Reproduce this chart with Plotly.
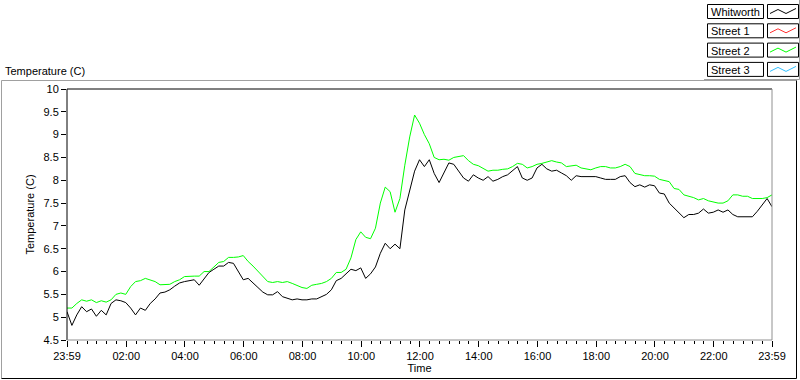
import plotly.graph_objects as go
import pandas as pd

# ---- data (10-minute samples from 23:59 to 23:59) ----
start = "2024-01-01 23:59"
whitworth = [5.12, 4.82, 5.05, 5.23, 5.12, 5.18, 5.02, 5.15, 5.05, 5.30,
             5.38, 5.36, 5.32, 5.20, 5.05, 5.20, 5.15, 5.30, 5.40, 5.53,
             5.55, 5.60, 5.68, 5.75, 5.78, 5.80, 5.82, 5.70, 5.85, 5.98,
             6.05, 6.12, 6.12, 6.20, 6.18, 6.00, 5.82, 5.85, 5.74, 5.65,
             5.55, 5.49, 5.49, 5.56, 5.45, 5.42, 5.38, 5.40, 5.38, 5.38,
             5.40, 5.40, 5.45, 5.50, 5.60, 5.80, 5.85, 5.95, 6.05, 6.02,
             6.08, 5.85, 5.95, 6.10, 6.40, 6.62, 6.50, 6.60, 6.50, 7.35,
             7.75, 8.20, 8.45, 8.30, 8.45, 8.15, 7.95, 8.15, 8.38, 8.35,
             8.19, 8.05, 7.98, 8.12, 8.05, 8.00, 8.08, 7.98, 8.02, 8.08,
             8.12, 8.20, 8.30, 8.05, 8.00, 8.05, 8.27, 8.35, 8.25, 8.20,
             8.22, 8.16, 8.10, 8.00, 8.10, 8.08, 8.08, 8.09, 8.08, 8.05,
             8.02, 8.02, 8.02, 8.08, 8.10, 7.95, 7.86, 7.90, 7.85, 7.90,
             7.88, 7.72, 7.70, 7.50, 7.40, 7.30, 7.18, 7.25, 7.25, 7.28,
             7.37, 7.28, 7.30, 7.35, 7.30, 7.35, 7.25, 7.20, 7.20, 7.20,
             7.20, 7.32, 7.45, 7.60, 7.42]
street2 = [5.20, 5.20, 5.30, 5.38, 5.35, 5.38, 5.32, 5.36, 5.33, 5.38,
           5.50, 5.53, 5.50, 5.67, 5.78, 5.80, 5.85, 5.82, 5.78, 5.71,
           5.71, 5.72, 5.78, 5.82, 5.89, 5.90, 5.90, 5.90, 6.00, 6.00,
           6.10, 6.20, 6.22, 6.31, 6.31, 6.32, 6.35, 6.22, 6.12, 6.00,
           5.90, 5.78, 5.76, 5.78, 5.76, 5.78, 5.74, 5.70, 5.65, 5.63,
           5.70, 5.72, 5.74, 5.78, 5.85, 5.98, 5.98, 6.05, 6.30, 6.70,
           6.87, 6.75, 6.72, 6.95, 7.50, 7.85, 7.75, 7.30, 7.60, 8.33,
           8.95, 9.43, 9.25, 9.00, 8.80, 8.50, 8.45, 8.46, 8.44, 8.50,
           8.52, 8.54, 8.43, 8.35, 8.32, 8.25, 8.20, 8.22, 8.22, 8.24,
           8.25, 8.30, 8.37, 8.35, 8.27, 8.30, 8.35, 8.37, 8.40, 8.43,
           8.40, 8.38, 8.30, 8.32, 8.33, 8.27, 8.25, 8.23, 8.27, 8.30,
           8.30, 8.27, 8.27, 8.30, 8.35, 8.30, 8.15, 8.12, 8.10, 8.10,
           8.09, 8.02, 8.00, 7.97, 7.82, 7.80, 7.68, 7.65, 7.62, 7.57,
           7.60, 7.55, 7.52, 7.50, 7.50, 7.55, 7.68, 7.68, 7.65, 7.65,
           7.60, 7.60, 7.60, 7.62, 7.68]
street1 = []
street3 = []
series_names = ["Whitworth", "Street 1", "Street 2", "Street 3"]
series_colors = ["#000000", "#ff3030", "#00ff00", "#30c0ff"]
tick_vals = ["2024-01-01 23:59", "2024-01-02 02:00", "2024-01-02 04:00",
             "2024-01-02 06:00", "2024-01-02 08:00", "2024-01-02 10:00",
             "2024-01-02 12:00", "2024-01-02 14:00", "2024-01-02 16:00",
             "2024-01-02 18:00", "2024-01-02 20:00", "2024-01-02 22:00",
             "2024-01-02 23:59"]
tick_text = ["23:59", "02:00", "04:00", "06:00", "08:00", "10:00", "12:00",
             "14:00", "16:00", "18:00", "20:00", "22:00", "23:59"]

times = pd.date_range(start, periods=len(whitworth), freq="10min")

W, H = 800, 380
L, R, T, B = 67, 772, 89, 340
FONT = "Liberation Sans"


def px(x):
    return (x - L) / (R - L)


def py(y):
    return (B - y) / (B - T)


def line(x0, y0, x1, y1, color):
    return dict(type="line", xref="paper", yref="paper",
                x0=px(x0), x1=px(x1), y0=py(y0), y1=py(y1),
                line=dict(color=color, width=1))


fig = go.Figure()
all_data = [whitworth, street1, street2, street3]
for name, col, vals in zip(series_names, series_colors, all_data):
    fig.add_trace(go.Scatter(x=times[:len(vals)], y=vals, mode="lines", name=name,
                             line=dict(color=col, width=1), showlegend=False))

shapes = []
# outer frame (inset look)
shapes.append(line(1.5, 80.5, 796.5, 80.5, "#a0a0a0"))
shapes.append(line(1.5, 80.5, 1.5, 378.5, "#a0a0a0"))
shapes.append(line(796.5, 80.5, 796.5, 378.5, "#000000"))
shapes.append(line(1.5, 378.5, 796.5, 378.5, "#000000"))
# plot area frame
shapes.append(line(L, T, R, T, "#000000"))
shapes.append(line(L, T, L, B, "#000000"))
shapes.append(line(R, T, R, B, "#909090"))
shapes.append(line(L, B, R, B, "#909090"))

annotations = []
# legend (LabVIEW-style plot legend)
pitch = 19.3
for k, (name, col) in enumerate(zip(series_names, series_colors)):
    y0 = 4.5 + k * pitch
    y1 = y0 + 14
    shapes.append(dict(type="rect", xref="paper", yref="paper",
                       x0=px(707.5), x1=px(763.5), y0=py(y0), y1=py(y1),
                       line=dict(color="#000000", width=1), fillcolor="white"))
    shapes.append(dict(type="rect", xref="paper", yref="paper",
                       x0=px(767.5), x1=px(798.5), y0=py(y0), y1=py(y1),
                       line=dict(color="#000000", width=1), fillcolor="white"))
    yc = (y0 + y1) / 2
    path = "M {:.4f},{:.4f} L {:.4f},{:.4f} L {:.4f},{:.4f} L {:.4f},{:.4f}".format(
        px(770), py(yc + 2), px(778), py(yc - 2), px(786), py(yc + 2), px(796), py(yc - 3))
    shapes.append(dict(type="path", xref="paper", yref="paper", path=path,
                       line=dict(color=col, width=1)))
    annotations.append(dict(x=px(709), y=py(yc + 0.5), xref="paper", yref="paper", text=name,
                            showarrow=False, xanchor="left", yanchor="middle",
                            font=dict(family=FONT, size=11, color="black")))
# legend frame
shapes.append(line(704, 79.5, 799.5, 79.5, "#a0a0a0"))
shapes.append(line(799.5, 0, 799.5, 79.5, "#a0a0a0"))

annotations.append(dict(x=px(3), y=py(71), xref="paper", yref="paper", text="Temperature (C)",
                        showarrow=False, xanchor="left", yanchor="middle",
                        font=dict(family=FONT, size=11, color="black")))

fig.update_layout(
    width=W, height=H,
    margin=dict(l=L, r=W - R, t=T, b=H - B, pad=0, autoexpand=False),
    paper_bgcolor="white", plot_bgcolor="white",
    font=dict(family=FONT, size=11, color="black"),
    shapes=shapes, annotations=annotations,
    showlegend=False,
)
fig.update_xaxes(
    range=[tick_vals[0], tick_vals[-1]],
    tickmode="array", tickvals=tick_vals, ticktext=tick_text,
    ticks="outside", ticklen=6, tickcolor="#000000", tickwidth=1,
    showgrid=False, zeroline=False, showline=False, automargin=False,
    minor=dict(ticks="outside", ticklen=3, tickcolor="#000000", tickwidth=1,
               tick0="2024-01-02 00:00", dtick=1200000, showgrid=False),
    title=dict(text="Time", font=dict(family=FONT, size=11), standoff=2),
    tickfont=dict(family=FONT, size=11),
)
fig.update_yaxes(
    range=[4.5, 10], dtick=0.5, tick0=4.5,
    ticks="outside", ticklen=5, tickcolor="#000000", tickwidth=1,
    showgrid=False, zeroline=False, showline=False, automargin=False,
    title=dict(text="Temperature (C)", font=dict(family=FONT, size=11), standoff=6),
    tickfont=dict(family=FONT, size=11),
)

fig.write_html("out.html", config={"displayModeBar": False},
               post_script="document.body.style.margin='0';")
